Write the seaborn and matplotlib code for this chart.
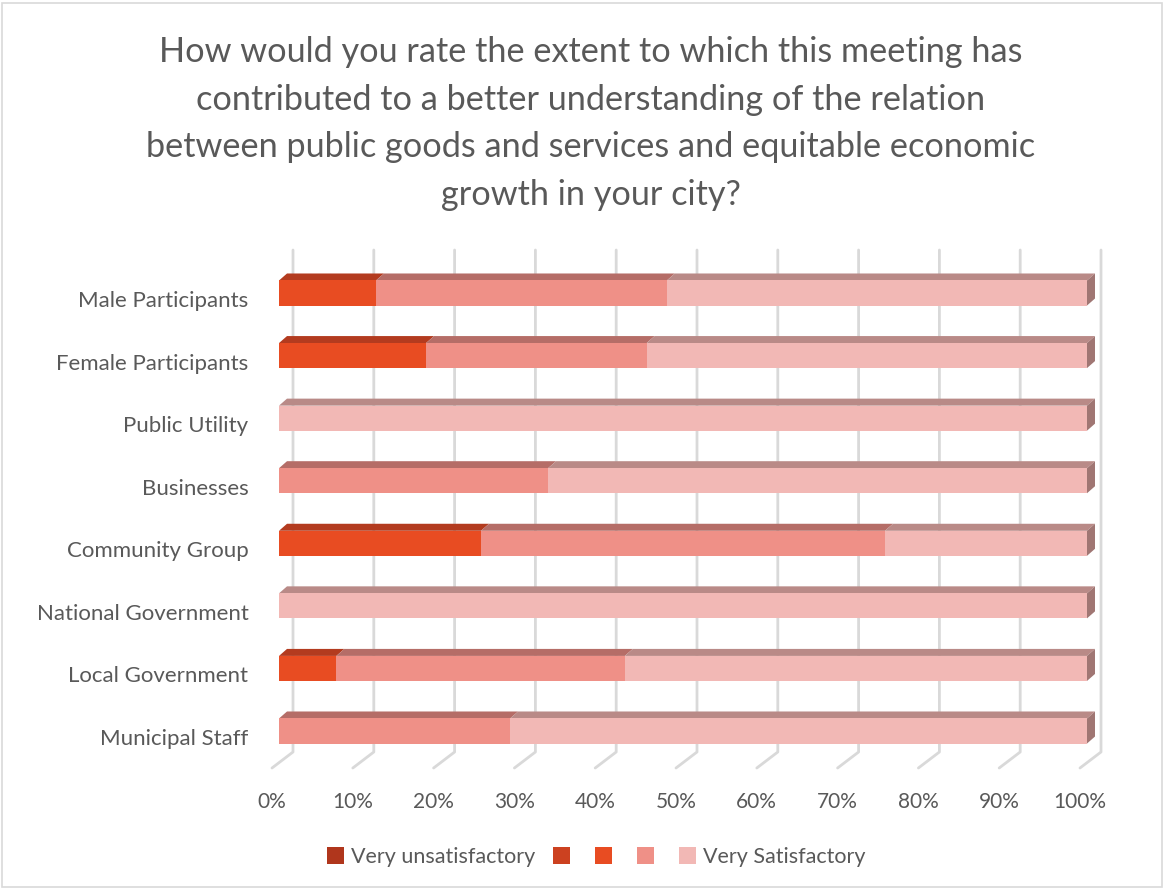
import numpy as np
import pandas as pd
import matplotlib
matplotlib.use("Agg")
import matplotlib.pyplot as plt
import seaborn as sns
import matplotlib.transforms as mtrans
from matplotlib.patches import Polygon, Patch, Rectangle
from matplotlib.lines import Line2D

categories = ["Male Participants", "Female Participants", "Public Utility", "Businesses",
              "Community Group", "National Government", "Local Government", "Municipal Staff"]
very_unsat = [0, 0, 0, 0, 0, 0, 0, 0]
unsat = [0, 0, 0, 0, 0, 0, 0, 0]
neutral = [12.0, 18.2, 0, 0, 25.0, 0, 7.1, 0]
sat = [36.0, 27.3, 0, 33.3, 50.0, 0, 35.7, 28.6]
very_sat = [52.0, 54.5, 100, 66.7, 25.0, 100, 57.2, 71.4]
series_names = ["Very unsatisfactory", "", "", "", "Very Satisfactory"]
xtick_labels = ["0%", "10%", "20%", "30%", "40%", "50%", "60%", "70%", "80%", "90%", "100%"]

colors = ["#B0361C", "#CC4120", "#E84C22", "#EF9087", "#F2B8B5"]
top_colors = ["#8E2A15", "#A5341A", "#B33B1F", "#B56D67", "#B98A87"]
side_color = "#A07673"
text_color = "#595959"

sns.set_theme(style="white")
plt.rcParams['font.family'] = ['Lato', 'DejaVu Sans']

W, H = 1165, 889
fig = plt.figure(figsize=(W / 100, H / 100), dpi=100)
x0_px, x1_px = 279, 1087
y_top_px, y_bot_px = 250, 768
ax = fig.add_axes([x0_px / W, 1 - y_bot_px / H, (x1_px - x0_px) / W, (y_bot_px - y_top_px) / H])
cat_spacing = (731 - 293) / 7.0
ylo = 0 - (293 - y_top_px) / cat_spacing
yhi = 7 + (y_bot_px - 731) / cat_spacing

pxx = 1.0 / (x1_px - x0_px)
pxy = 1.0 / cat_spacing

series = [very_unsat, unsat, neutral, sat, very_sat]
arr = np.array(series, dtype=float) / 100.0
cum = np.cumsum(arr, axis=0)
df = pd.DataFrame({"category": categories})
bw = 0.4
for i in range(4, -1, -1):
    df["v"] = cum[i]
    sns.barplot(data=df, x="v", y="category", orient="h", color=colors[i],
                width=bw, saturation=1, ax=ax, zorder=3, linewidth=0)

ax.set_xlim(0, 1)
ax.set_ylim(yhi, ylo)

# gridlines (back plane, with slanted floor segment)
for k in range(11):
    xv = k / 10
    ax.add_line(Line2D([xv + 14 * pxx, xv + 14 * pxx, xv - 7 * pxx],
                       [ylo, 7 + (752 - 731) * pxy, yhi],
                       color="#D9D9D9", lw=2, zorder=0, clip_on=False))

dx, dy = 8 * pxx, -7 * pxy
for j in range(len(categories)):
    ytop = j - bw / 2
    ybot = j + bw / 2
    for i in range(5):
        left = cum[i][j] - arr[i][j]
        right = cum[i][j]
        if arr[i][j] <= 0:
            continue
        ax.add_patch(Polygon([(left, ytop), (right, ytop), (right + dx, ytop + dy), (left + dx, ytop + dy)],
                             closed=True, facecolor=top_colors[i], edgecolor="none", zorder=2, clip_on=False))
    r = cum[4][j]
    ax.add_patch(Polygon([(r, ytop), (r + dx, ytop + dy), (r + dx, ybot + dy), (r, ybot)],
                         closed=True, facecolor=side_color, edgecolor="none", zorder=2, clip_on=False))

for s in ax.spines.values():
    s.set_visible(False)
ax.set_xlabel("")
ax.set_ylabel("")
ax.set_xticks(np.linspace(0, 1, 11))
ax.set_xticklabels(xtick_labels)
ax.tick_params(axis="x", length=0, pad=17, labelsize=15, colors=text_color)
ax.tick_params(axis="y", length=0, pad=22, labelsize=16, colors=text_color)
off = mtrans.ScaledTranslation(-7 / 100, 0, fig.dpi_scale_trans)
for lab in ax.get_xticklabels():
    lab.set_transform(lab.get_transform() + off)
offy = mtrans.ScaledTranslation(0, -6 / 100, fig.dpi_scale_trans)
for lab in ax.get_yticklabels():
    lab.set_transform(lab.get_transform() + offy)
ax.grid(False)

title_lines = ["How would you rate the extent to which this meeting has",
               "contributed to a better understanding of the relation",
               "between public goods and services and equitable economic",
               "growth in your city?"]
fig.text(591 / W, 1 - 36 / H, "\n".join(title_lines), ha="center", va="top",
         fontsize=24.7, color=text_color, linespacing=1.6)

handles = [Patch(facecolor=c, edgecolor="none") for c in colors]
fig.legend(handles, series_names, loc="center", bbox_to_anchor=(596 / W, 1 - 857 / H),
           ncol=5, frameon=False, fontsize=15.5, labelcolor=text_color,
           handlelength=0.8, handleheight=0.8, handletextpad=0.3, columnspacing=0.85)

fig.add_artist(Rectangle((2 / W, 2 / H), (W - 5) / W, (H - 5) / H, transform=fig.transFigure,
                         fill=False, edgecolor="#D9D9D9", lw=1.2))

fig.savefig("out.png", dpi=100)
